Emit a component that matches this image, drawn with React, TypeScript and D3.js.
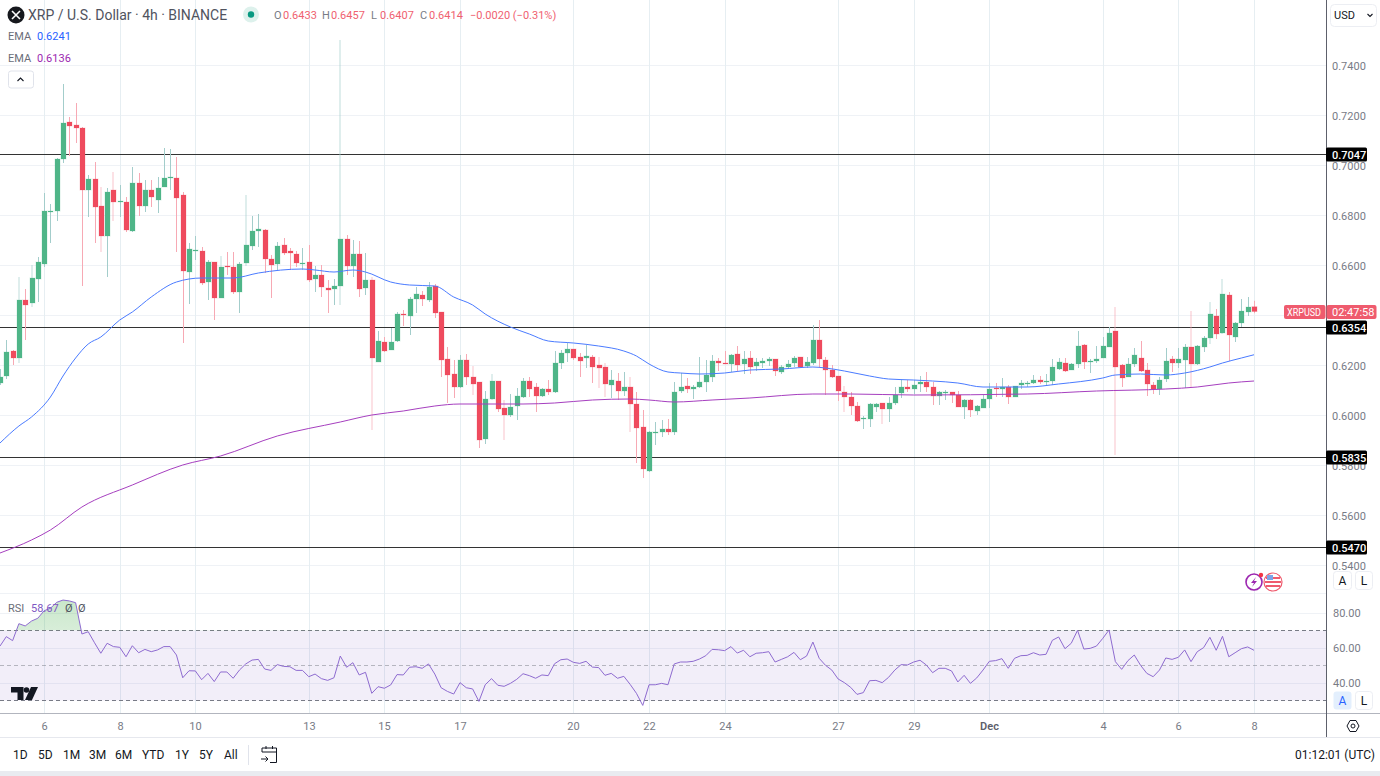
import React from "react";
import * as d3 from "d3";

const W = 1380, H = 776;
const FONT = "Roboto, 'Noto Sans', sans-serif";

const opens = [
.6128,.6156,.6256,.6228,.6460,.6448,.6544,.6604,.6812,.6816,.7024,.7172,.7160,.7148,.6900,.6944,.6836,.6716,.6900,.6852,
.6852,.6736,.6928,.6836,.6900,.6860,.6912,.6948,.6948,.6880,.6572,.6656,.6656,.6532,.6612,.6468,.6596,.6592,.6492,.6608,
.6676,.6736,.6740,.6624,.6604,.6680,.6656,.6644,.6604,.6612,.6544,.6560,.6508,.6504,.6516,.6704,.6596,.6644,.6508,.6540,
.6212,.6292,.6260,.6296,.6404,.6396,.6464,.6480,.6460,.6516,.6412,.6224,.6164,.6112,.6220,.6152,.6132,.5904,.6064,.6136,
.6028,.6000,.6036,.6072,.6136,.6112,.6076,.6104,.6092,.6208,.6248,.6264,.6232,.6228,.6232,.6200,.6192,.6120,.6136,.6096,
.6112,.6044,.5952,.5776,.5928,.5932,.5944,.5932,.6096,.6116,.6104,.6112,.6132,.6152,.6216,.6208,.6204,.6244,.6204,.6228,
.6196,.6208,.6216,.6224,.6172,.6192,.6208,.6232,.6196,.6208,.6300,.6220,.6180,.6156,.6092,.6072,.6036,.5984,.5984,.6032,
.6048,.6024,.6048,.6088,.6112,.6104,.6124,.6132,.6112,.6076,.6088,.6092,.6080,.6032,.6060,.6016,.6028,.6064,.6108,.6104,
.6112,.6072,.6120,.6124,.6128,.6140,.6132,.6136,.6184,.6208,.6180,.6204,.6280,.6212,.6216,.6228,.6272,.6336,.6200,.6152,
.6204,.6228,.6180,.6120,.6104,.6144,.6224,.6208,.6220,.6272,.6204,.6272,.6308,.6396,.6328,.6480,.6312,.6368,.6412,.6433];
const highs = [
.6184,.6300,.6260,.6552,.6504,.6600,.6632,.6888,.6844,.7028,.7324,.7192,.7248,.7152,.6960,.7012,.6912,.6908,.6972,.6920,
.6872,.6992,.6968,.6940,.6940,.6952,.7068,.7064,.7032,.6892,.6688,.6716,.6672,.6620,.6612,.6636,.6652,.6652,.6612,.6880,
.6796,.6804,.6744,.6640,.6692,.6708,.6668,.6656,.6668,.6680,.6596,.6600,.6540,.6544,.7500,.6720,.6700,.6696,.6648,.6552,
.6336,.6312,.6348,.6412,.6420,.6472,.6512,.6496,.6532,.6524,.6412,.6272,.6220,.6240,.6244,.6196,.6132,.6096,.6164,.6136,
.6060,.6084,.6108,.6148,.6152,.6128,.6108,.6140,.6256,.6260,.6288,.6264,.6248,.6280,.6240,.6232,.6208,.6180,.6168,.6172,
.6152,.6092,.6020,.5936,.5972,.5980,.5984,.6132,.6168,.6148,.6120,.6232,.6220,.6240,.6228,.6256,.6244,.6276,.6256,.6256,
.6228,.6228,.6232,.6224,.6200,.6220,.6236,.6232,.6232,.6360,.6380,.6232,.6200,.6156,.6116,.6092,.6052,.5996,.6048,.6048,
.6048,.6072,.6112,.6144,.6140,.6140,.6156,.6172,.6132,.6096,.6100,.6092,.6096,.6064,.6064,.6040,.6080,.6128,.6128,.6148,
.6120,.6116,.6140,.6136,.6160,.6156,.6164,.6224,.6228,.6228,.6208,.6336,.6284,.6224,.6276,.6312,.6352,.6432,.6204,.6228,
.6268,.6296,.6208,.6132,.6152,.6268,.6236,.6268,.6284,.6416,.6280,.6316,.6452,.6424,.6544,.6492,.6372,.6464,.6472,.6457];
const lows = [
.6120,.6144,.6200,.6208,.6300,.6432,.6452,.6592,.6688,.6776,.7008,.7036,.7088,.6516,.6792,.6688,.6652,.6552,.6776,.6792,
.6732,.6732,.6796,.6812,.6832,.6808,.6912,.6900,.6652,.6288,.6444,.6620,.6520,.6460,.6380,.6468,.6560,.6484,.6408,.6596,
.6660,.6672,.6568,.6468,.6580,.6640,.6580,.6592,.6580,.6532,.6492,.6472,.6408,.6440,.6440,.6560,.6552,.6472,.6480,.5940,
.6212,.6252,.6260,.6292,.6356,.6320,.6408,.6436,.6452,.6388,.6152,.6048,.6068,.6108,.6120,.6080,.5868,.5884,.6060,.6012,
.5900,.5992,.5980,.6068,.6072,.6012,.6072,.6080,.6088,.6184,.6212,.6220,.6152,.6188,.6128,.6108,.6072,.6068,.6060,.6076,
.5932,.5808,.5748,.5772,.5880,.5912,.5920,.5920,.6088,.6088,.6064,.6108,.6092,.6132,.6176,.6204,.6172,.6172,.6164,.6164,
.6176,.6188,.6196,.6156,.6164,.6188,.6192,.6188,.6188,.6200,.6188,.6080,.6148,.6056,.6012,.6000,.5972,.5944,.5952,.6012,
.5964,.5972,.6040,.6068,.6092,.6084,.6092,.6092,.6040,.6040,.6060,.6048,.6032,.5984,.5992,.6000,.6028,.6028,.6072,.6072,
.6044,.6072,.6104,.6112,.6124,.6124,.6120,.6120,.6180,.6172,.6180,.6188,.6184,.6168,.6208,.6228,.6272,.5840,.6112,.6152,
.6192,.6172,.6076,.6084,.6080,.6132,.6172,.6188,.6108,.6112,.6200,.6252,.6284,.6304,.6324,.6216,.6292,.6352,.6396,.6407];
const closes = [
.6152,.6252,.6228,.6460,.6440,.6548,.6612,.6816,.6816,.7024,.7168,.7156,.7148,.6900,.6944,.6832,.6716,.6892,.6852,.6856,
.6740,.6928,.6836,.6900,.6872,.6908,.6948,.6952,.6868,.6576,.6664,.6660,.6528,.6612,.6468,.6592,.6592,.6492,.6604,.6680,
.6736,.6744,.6624,.6600,.6676,.6648,.6648,.6608,.6608,.6540,.6560,.6512,.6500,.6516,.6704,.6596,.6644,.6504,.6540,.6228,
.6296,.6256,.6292,.6404,.6400,.6464,.6484,.6464,.6512,.6408,.6220,.6160,.6112,.6220,.6152,.6124,.5900,.6064,.6136,.6024,
.6000,.6032,.6076,.6136,.6104,.6076,.6104,.6092,.6208,.6248,.6264,.6228,.6216,.6236,.6192,.6188,.6124,.6140,.6096,.6112,
.6044,.5948,.5784,.5932,.5932,.5944,.5932,.6092,.6112,.6104,.6112,.6132,.6160,.6216,.6208,.6204,.6240,.6200,.6224,.6192,
.6212,.6216,.6224,.6176,.6192,.6204,.6228,.6192,.6212,.6300,.6224,.6180,.6152,.6096,.6072,.6036,.5976,.5988,.6044,.6044,
.6024,.6048,.6080,.6112,.6104,.6120,.6132,.6112,.6076,.6092,.6092,.6080,.6032,.6060,.6020,.6036,.6064,.6104,.6104,.6112,
.6072,.6116,.6128,.6128,.6140,.6132,.6136,.6192,.6212,.6176,.6204,.6276,.6212,.6216,.6224,.6276,.6328,.6192,.6148,.6204,
.6240,.6176,.6124,.6104,.6140,.6216,.6208,.6224,.6272,.6204,.6276,.6308,.6404,.6324,.6484,.6320,.6368,.6416,.6432,.6414];

const paleWickBars = [3,5,16,18,35,39,54,59,75,78,80,95,96,100,134,140,177,189,192,194];

const emaFastBars = [0,3,5,8,10,12,14,16,19,21,24,28,32,37,41,48,50,53,56,58,62,65,69,72,75,77,81,84,87,91,95,99,101,103,106,108,111,115,119,124,129,131,134,138,141,145,148,152,156,163,168,175,177,181,185,188,192,194,197,199];
const emaFastValues = [.5888,.5956,.5992,.6072,.6156,.6228,.6284,.6312,.6380,.6412,.6472,.6532,.6548,.6548,.6568,.6584,.6580,.6572,.6580,.6572,.6532,.6520,.6516,.6472,.6440,.6404,.6352,.6324,.6296,.6288,.6276,.6256,.6236,.6204,.6172,.6168,.6164,.6168,.6180,.6184,.6192,.6188,.6176,.6156,.6144,.6140,.6136,.6128,.6112,.6112,.6124,.6148,.6160,.6164,.6160,.6168,.6192,.6208,.6228,.6241];
const emaSlowBars = [0,5,8,13,21,29,35,44,54,59,64,69,73,83,88,94,100,103,107,113,119,129,135,145,163,174,185,190,195,199];
const emaSlowValues = [.5448,.5500,.5540,.5632,.5720,.5800,.5836,.5916,.5972,.6000,.6016,.6036,.6044,.6044,.6048,.6060,.6064,.6060,.6052,.6060,.6068,.6084,.6084,.6080,.6084,.6096,.6104,.6112,.6128,.6136];

const rsiValues = [
61.1,66.5,64.2,73.9,72.6,75.4,77,81.3,82.7,86.1,87.4,86.9,85.9,68,69.3,63,57,62.7,60.8,60.4,
55,61.3,57.3,59.2,57.9,58.9,60.8,60.8,56,43,47,46.9,41.9,45.5,40.8,46.3,46.3,42.7,47.4,50.9,
53.1,53.5,48,47.2,50.5,49.5,49.3,47.2,47.2,43.6,45.1,42.5,41.5,43,55.4,49,51.6,44.6,46.1,34.1,
37.9,37,38.9,44.8,44.6,49,49.3,48.4,50.9,45.1,37.3,35.2,33.7,40.2,37.3,36.6,29.5,39,42.5,38.7,
38.1,39.8,42.1,45.3,44.2,42.7,44.6,44.2,51,53.3,53.7,51.8,51.2,52.4,49.1,48.8,44.4,45.5,42.7,43.8,
39.2,34.1,27.2,39,39,39.8,39,50.9,52,52,52.4,53.7,55.6,59.2,59,58.5,60.8,57.1,58.7,55,
57,57.3,57.9,52,53.5,55,57.5,53.3,55.4,63.4,54.1,50.1,47.4,42.3,40.2,37.5,33.5,34.5,41.3,41.5,
40.2,43.2,47.4,50.5,50.3,52,53,50.3,45.9,48.4,48.4,46.9,40.6,44.4,39.8,42.9,47.4,52.4,52.8,53.9,
48.4,54.1,55.6,55.8,57.3,56,56.4,64.4,66.3,59.6,62.7,70.1,59.4,59.8,61.1,65.5,70.3,52.2,47.8,52.8,
56,50.1,45.5,43.6,47.4,54.3,53.5,54.7,58.9,52.2,57.9,60.2,66.1,58.7,66.7,55,57.3,59.6,60.6,58.67];

const priceTicks = [0.74,0.72,0.70,0.68,0.66,0.64,0.62,0.60,0.58,0.56,0.54];
const hiddenPriceLabels = [0.64];
const levelLines = [0.7044,0.6354,0.5832,0.5472];
const levelLabels = ["0.7047","0.6354","0.5835","0.5470"];
const rsiTicks = [80,60,40];
const dateBars = [7,19,31,49,61,73,91,103,115,133,145,157,175,187,199];
const dateLabels = ["6","8","10","13","15","17","20","22","24","27","29","Dec","4","6","8"];
const ranges = ["1D","5D","1M","3M","6M","YTD","1Y","5Y","All"];
const rangeX = [13,38,63,89,115,142,175,199,224];
const ohlcLabels = ["O","H","L","C"];
const ohlcValues = ["0.6433","0.6457","0.6407","0.6414"];
const ohlcX = [274,322,371,420];

const PANE_R = 1326.5;
const UP = "#4FB588", DOWN = "#EF4B5E", UPW = "#A3CDCB", DOWNW = "#F7A9B4";
const GRID_H = "#EFF2F6", GRID_V = "#E6EEF2", TXT = "#787B86";

const x = d3.scaleLinear().domain([0, 199]).range([0, 1254]);
const y = d3.scaleLinear().domain([0.54, 0.74]).range([565, 65]);
const r = d3.scaleLinear().domain([0, 100]).range([753, 578]);

const crisp = (v: number) => Math.round(v) + 0.5;

function App() {
  const bars = d3.range(opens.length);
  const lineF = d3.line<number>().x(i => x(emaFastBars[i])).y(i => y(emaFastValues[i])).curve(d3.curveMonotoneX);
  const lineS = d3.line<number>().x(i => x(emaSlowBars[i])).y(i => y(emaSlowValues[i])).curve(d3.curveMonotoneX);
  const rsiLine = d3.line<number>().x(i => x(i)).y(i => r(rsiValues[i]));
  const rsiArea = d3.area<number>().x(i => x(i)).y0(r(70)).y1(i => r(rsiValues[i]));

  return (
    <svg width={W} height={H} viewBox={`0 0 ${W} ${H}`}
      style={{ position: "fixed", left: 0, top: 0, display: "block", background: "#fff", fontFamily: FONT }}>
      <defs>
        <clipPath id="pane"><rect x={0} y={0} width={PANE_R} height={593} /></clipPath>
        <clipPath id="ob"><rect x={0} y={594} width={PANE_R} height={r(70) - 594} /></clipPath>
        <linearGradient id="obg" x1="0" y1="0" x2="0" y2="1">
          <stop offset="0" stopColor="#4CAF50" stopOpacity={0.3} />
          <stop offset="1" stopColor="#4CAF50" stopOpacity={0.02} />
        </linearGradient>
      </defs>

      {/* grid */}
      {priceTicks.map(t => (
        <line key={t} x1={0} x2={PANE_R} y1={crisp(y(t))} y2={crisp(y(t))} stroke={GRID_H} />
      ))}
      <line x1={0} x2={PANE_R} y1={593.5} y2={593.5} stroke={GRID_H} />
      {rsiTicks.map(t => (
        <line key={t} x1={0} x2={PANE_R} y1={crisp(r(t))} y2={crisp(r(t))} stroke={GRID_H} />
      ))}
      {dateBars.map(b => (
        <line key={b} x1={crisp(x(b))} x2={crisp(x(b))} y1={0} y2={713} stroke={GRID_V} />
      ))}

      {/* level lines */}
      {levelLines.map(l => (
        <line key={l} x1={0} x2={PANE_R} y1={crisp(y(l))} y2={crisp(y(l))} stroke="#333" />
      ))}

      {/* candles */}
      <g clipPath="url(#pane)">
        {bars.map(i => {
          const up = closes[i] >= opens[i];
          const cx = crisp(x(i));
          const top = y(Math.max(opens[i], closes[i]));
          const bot = y(Math.min(opens[i], closes[i]));
          const pale = paleWickBars.includes(i);
          const col = up ? UP : DOWN;
          return (
            <g key={i}>
              <line x1={pale ? cx - 0.5 : cx} x2={pale ? cx - 0.5 : cx} y1={y(highs[i])} y2={y(lows[i])}
                stroke={up ? UPW : DOWNW} strokeWidth={pale ? 2 : 1} strokeOpacity={pale ? 0.35 : 1} />
              <rect x={cx - 2.5} y={top} width={5} height={Math.max(bot - top, 1)} fill={col}
                stroke={col} strokeOpacity={0.22} strokeWidth={1} />
            </g>
          );
        })}
        <path d={lineS(d3.range(emaSlowBars.length)) || ""} fill="none" stroke="#A63FBF" strokeWidth={1} />
        <path d={lineF(d3.range(emaFastBars.length)) || ""} fill="none" stroke="#4A7BFF" strokeWidth={1} />
      </g>

      {/* RSI */}
      <rect x={0} y={r(70)} width={PANE_R} height={r(30) - r(70)} fill="#7E57C2" fillOpacity={0.1} />
      <line x1={0} x2={PANE_R} y1={r(70)} y2={r(70)} stroke="#787B86" strokeDasharray="4 3" />
      <line x1={0} x2={PANE_R} y1={r(50)} y2={r(50)} stroke="#787B86" strokeOpacity={0.5} strokeDasharray="4 3" />
      <line x1={0} x2={PANE_R} y1={r(30)} y2={r(30)} stroke="#787B86" strokeDasharray="4 3" />
      <path d={rsiArea(bars) || ""} fill="url(#obg)" clipPath="url(#ob)" />
      <path d={rsiLine(bars) || ""} fill="none" stroke="#8E6BD0" strokeWidth={1} />

      {/* TV logo */}
      <g fill="#131722">
        <path d="M11 687H23.5V700H17.5V692.5H11Z" />
        <circle cx={26.5} cy={690} r={2.8} />
        <path d="M31 687H38L32 700H25Z" />
      </g>

      {/* frame */}
      <line x1={0} x2={1380} y1={713.5} y2={713.5} stroke="#B2B5BE" strokeWidth={1.2} />
      <line x1={0} x2={1380} y1={737.5} y2={737.5} stroke="#E6E8EE" />
      <line x1={1326.5} x2={1326.5} y1={0} y2={737} stroke="#5D606B" />
      <rect x={0} y={771} width={W} height={5} fill="#E9EBF0" />

      {/* price axis */}
      {priceTicks.filter(t => !hiddenPriceLabels.includes(t)).map(t => (
        <text key={t} x={1332} y={y(t) + 4.5} fontSize={11} fill={TXT}>{t.toFixed(4)}</text>
      ))}
      {levelLines.map((l, i) => (
        <g key={l}>
          <rect x={1326} y={crisp(y(l)) - 7} width={41} height={14} rx={1.5} fill="#000" />
          <text x={1332} y={crisp(y(l)) + 4} fontSize={11} fontWeight={500} fill="#fff">{levelLabels[i]}</text>
        </g>
      ))}
      {rsiTicks.map(t => (
        <text key={t} x={1333} y={r(t) + 4} fontSize={11} fill={TXT}>{t.toFixed(2)}</text>
      ))}

      {/* last price tag */}
      <rect x={1284} y={305} width={41.5} height={14} rx={2} fill="#EF5B6E" />
      <text x={1287} y={316} fontSize={10.5} fill="#fff" textLength={34} lengthAdjust="spacingAndGlyphs">XRPUSD</text>
      <rect x={1326.5} y={305} width={50} height={14} rx={2} fill="#EF5B6E" />
      <text x={1332} y={316} fontSize={11} fill="#fff">02:47:58</text>

      {/* time axis */}
      {dateBars.map((b, i) => (
        <text key={b} x={crisp(x(b))} y={730} fontSize={11} textAnchor="middle"
          fill={dateLabels[i] === "Dec" ? "#5D606B" : TXT} fontWeight={dateLabels[i] === "Dec" ? 600 : 400}>{dateLabels[i]}</text>
      ))}

      {/* legend */}
      <circle cx={16} cy={15} r={8.5} fill="#16181D" />
      <path d="M12 11L20 19M20 11L12 19" stroke="#fff" strokeWidth={1.6} fill="none" />
      <text x={28} y={19.5} fontSize={14} fill="#50535E">XRP / U.S. Dollar · 4h · BINANCE</text>
      <circle cx={251} cy={14.5} r={8} fill="#DDF1EC" />
      <circle cx={251} cy={14.5} r={3.2} fill="#089981" />
      {ohlcLabels.map((l, i) => (
        <g key={l}>
          <text x={ohlcX[i]} y={18.5} fontSize={11} fill={TXT}>{l}</text>
          <text x={ohlcX[i] + 9} y={18.5} fontSize={11} fill="#F0616F">{ohlcValues[i]}</text>
        </g>
      ))}
      <text x={470} y={18.5} fontSize={11} fill="#F0616F">−0.0020 (−0.31%)</text>
      <text x={8} y={40} fontSize={11} fill="#6A6D78">EMA</text>
      <text x={37} y={40} fontSize={11} fill="#2962FF">0.6241</text>
      <text x={8} y={62} fontSize={11} fill="#6A6D78">EMA</text>
      <text x={37} y={62} fontSize={11} fill="#9C27B0">0.6136</text>
      <rect x={8.5} y={71} width={25} height={17} rx={2.5} fill="#fff" stroke="#E0E3EB" />
      <path d="M17.5 81L20.5 78L23.5 81" fill="none" stroke="#131722" strokeWidth={1.1} />

      {/* RSI legend */}
      <text x={8} y={612} fontSize={11} fill="#6A6D78">RSI</text>
      <text x={31} y={612} fontSize={11} fill="#7E57C2">58.67</text>
      <text x={65} y={612} fontSize={11} fill="#50535E">Ø</text>
      <text x={78} y={612} fontSize={11} fill="#50535E">Ø</text>

      {/* USD */}
      <rect x={1330.5} y={4.5} width={46} height={22} rx={4} fill="#fff" stroke="#ECEEF3" />
      <text x={1334} y={19} fontSize={11} fill="#131722">USD</text>
      <path d="M1367.5 14L1370 16.5L1372.5 14" fill="none" stroke="#131722" strokeWidth={1.1} />

      {/* A/L buttons */}
      <rect x={1333.5} y={571.5} width={18} height={18} rx={3} fill="#fff" stroke="#ECEEF3" />
      <text x={1342.5} y={585} fontSize={12} textAnchor="middle" fill="#131722">A</text>
      <rect x={1355.5} y={571.5} width={17} height={18} rx={3} fill="#fff" stroke="#ECEEF3" />
      <text x={1364} y={585} fontSize={12} textAnchor="middle" fill="#131722">L</text>
      <rect x={1333.5} y={691.5} width={18} height={18} rx={3} fill="#E3EFFD" />
      <text x={1342.5} y={705} fontSize={12} textAnchor="middle" fill="#2962FF">A</text>
      <rect x={1355.5} y={691.5} width={17} height={18} rx={3} fill="#fff" stroke="#ECEEF3" />
      <text x={1364} y={705} fontSize={12} textAnchor="middle" fill="#131722">L</text>

      {/* settings icon */}
      <path d="M1347 726L1350 720.5H1356L1359 726L1356 731.5H1350Z" fill="none" stroke="#131722" />
      <circle cx={1353} cy={726} r={2} fill="none" stroke="#131722" />

      {/* event icons */}
      <circle cx={1254} cy={582} r={8} fill="#fff" stroke="#9C27B0" strokeWidth={1.6} />
      <path d="M1256 577L1251 583H1254L1252 587L1257 581H1254Z" fill="#9C27B0" />
      <circle cx={1261} cy={575} r={2.2} fill="#F23645" />
      <circle cx={1273} cy={582} r={9} fill="#fff" stroke="#EF5B6E" strokeWidth={1.2} />
      <path d="M1266 578H1280M1265 582H1281M1266 586H1280" stroke="#EF5B6E" strokeWidth={1.8} />
      <rect x={1267} y={575} width={6} height={5} fill="#7CA5E8" />

      {/* bottom toolbar */}
      {ranges.map((t, i) => (
        <text key={t} x={rangeX[i]} y={759} fontSize={12} fill="#131722">{t}</text>
      ))}
      <line x1={248.5} x2={248.5} y1={745} y2={765} stroke="#E0E3EB" />
      <g fill="none" stroke="#131722" strokeWidth={1}>
        <path d="M262 752V748H276.5V762.5H270" />
        <path d="M262 752H276.5M266 746V749M272.5 746V749" />
        <path d="M261 759H268M265.5 756.5L268 759L265.5 761.5" />
      </g>
      <text x={1375} y={759} fontSize={12} textAnchor="end" fill="#131722">01:12:01 (UTC)</text>
    </svg>
  );
}

export default App;
